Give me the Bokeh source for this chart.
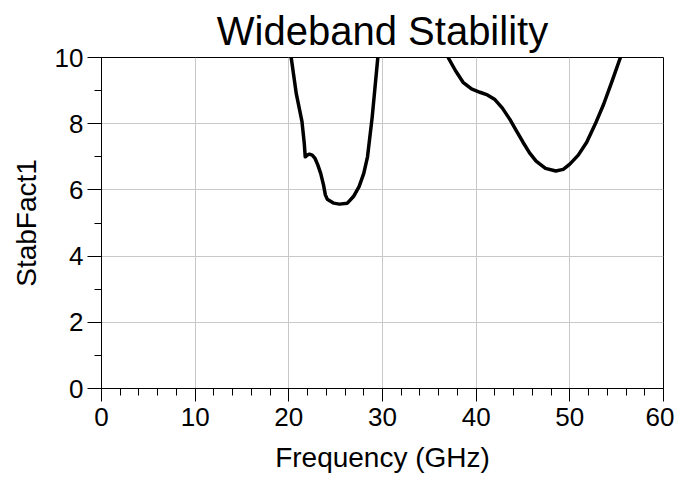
from bokeh.plotting import figure
from bokeh.embed import file_html
from bokeh.resources import INLINE
from bokeh.models import Range1d, FixedTicker

# Segment 1 (low band)
freq1 = [20.25, 20.8, 21.4, 21.65, 21.75, 22.0, 22.2, 22.5, 22.8, 23.1, 23.4, 23.7, 23.9, 24.1, 24.8, 25.4, 26.25, 26.9, 27.5, 28.0, 28.4, 28.9, 29.2, 29.5]
stab1 = [10.0, 8.9, 8.07, 7.4, 7.0, 7.06, 7.08, 7.05, 6.95, 6.75, 6.5, 6.15, 5.85, 5.72, 5.6, 5.57, 5.6, 5.8, 6.1, 6.5, 7.0, 8.2, 9.1, 10.0]

# Segment 2 (high band)
freq2 = [37.0, 37.8, 38.6, 39.5, 40.4, 41.2, 42.0, 42.8, 43.6, 44.3, 45.0, 45.7, 46.4, 47.4, 48.5, 49.3, 50.0, 50.9, 51.8, 52.7, 53.6, 54.5, 55.4]
stab2 = [10.0, 9.6, 9.25, 9.05, 8.95, 8.87, 8.73, 8.47, 8.13, 7.78, 7.44, 7.12, 6.87, 6.65, 6.57, 6.62, 6.78, 7.05, 7.44, 7.98, 8.58, 9.28, 10.0]

x_ticks = [0, 10, 20, 30, 40, 50, 60]
y_ticks = [0, 2, 4, 6, 8, 10]

p = figure(width=674, height=475, output_backend="svg", toolbar_location=None,
           x_range=Range1d(0, 60), y_range=Range1d(0, 10),
           title="Wideband Stability",
           min_border_left=101, min_border_right=11, min_border_top=57, min_border_bottom=86)

p.line(freq1, stab1, line_color="black", line_width=3.5, line_join="round")
p.line(freq2, stab2, line_color="black", line_width=3.5, line_join="round")

p.title.align = "center"
p.title.text_font = "Liberation Sans"
p.title.text_font_size = "40px"
p.title.text_font_style = "normal"
p.title.text_color = "black"

p.xaxis.ticker = FixedTicker(ticks=x_ticks, minor_ticks=list(range(0, 61, 2)))
p.yaxis.ticker = FixedTicker(ticks=y_ticks, minor_ticks=list(range(0, 11, 1)))

for ax in (p.xaxis, p.yaxis):
    ax.axis_line_color = "black"
    ax.major_tick_line_color = "black"
    ax.minor_tick_line_color = "black"
    ax.major_tick_in = 0
    ax.minor_tick_in = 0
    ax.major_label_text_font = "Liberation Sans"
    ax.major_label_text_font_size = "26px"
    ax.major_label_text_color = "black"
    ax.axis_label_text_font = "Liberation Sans"
    ax.axis_label_text_font_size = "28px"
    ax.axis_label_text_font_style = "normal"
    ax.axis_label_text_color = "black"

p.xaxis.major_tick_out = 13
p.xaxis.minor_tick_out = 7
p.yaxis.major_tick_out = 14
p.yaxis.minor_tick_out = 7
p.xaxis.major_label_standoff = 6
p.yaxis.major_label_standoff = 4
p.xaxis.axis_label = "Frequency (GHz)"
p.yaxis.axis_label = "StabFact1"
p.xaxis.axis_label_standoff = 13
p.yaxis.axis_label_standoff = 10

p.xgrid.ticker = FixedTicker(ticks=x_ticks)
p.ygrid.ticker = FixedTicker(ticks=y_ticks)
p.grid.grid_line_color = "#c8c8c8"
p.grid.grid_line_width = 1

p.outline_line_color = "black"
p.outline_line_width = 1
p.background_fill_color = "white"
p.border_fill_color = "white"

open("out.html", "w").write(file_html(p, INLINE))
